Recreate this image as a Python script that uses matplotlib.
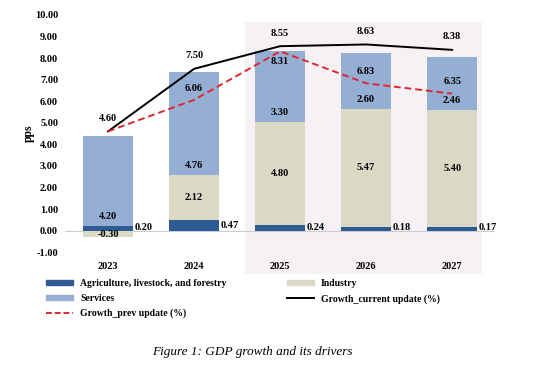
import matplotlib
matplotlib.use("Agg")
import matplotlib.pyplot as plt
from matplotlib.patches import Rectangle
from matplotlib.lines import Line2D
import numpy as np

plt.rcParams['font.family'] = ['Liberation Serif', 'DejaVu Serif']

years = ['2023', '2024', '2025', '2026', '2027']
agri = [0.20, 0.47, 0.24, 0.18, 0.17]
industry = [-0.30, 2.12, 4.80, 5.47, 5.40]
services = [4.20, 4.76, 3.30, 2.60, 2.46]
growth_current = [4.60, 7.50, 8.55, 8.63, 8.38]
growth_prev = [4.60, 6.06, 8.31, 6.83, 6.35]

c_agri = '#2e5b92'
c_ind = '#dbd8c5'
c_serv = '#94afd3'

fig = plt.figure(figsize=(5.33, 3.73), dpi=100)
ax = fig.add_axes([0.122, 0.324, 0.807, 0.636])
ax.patch.set_alpha(0)

x = np.arange(len(years))
w = 0.58

# zona de proyecciones sombreada
ax.add_patch(Rectangle((1.593, -2.0), 4.35 - 1.593, 11.67, facecolor='#f6f1f4',
                       edgecolor='none', zorder=0, clip_on=False))

agri_a = np.array(agri)
ind_a = np.array(industry)
serv_a = np.array(services)
ind_bottom = np.where(ind_a >= 0, agri_a, 0)
serv_bottom = agri_a + np.clip(ind_a, 0, None)

ax.bar(x, agri_a, w, color=c_agri, zorder=2)
ax.bar(x, ind_a, w, bottom=ind_bottom, color=c_ind, zorder=2)
ax.bar(x, serv_a, w, bottom=serv_bottom, color=c_serv, zorder=2)

ax.axhline(0, color='#c8ccd4', lw=0.8, zorder=1)

ax.plot(x, growth_current, color='black', lw=1.4, zorder=3)
ax.plot(x, growth_prev, color='#e0262e', lw=1.4, ls=(0, (3.5, 2)), zorder=3)

fs = 7.5
for i in x:
    ax.text(i + w / 2 + 0.02, agri_a[i] / 2 if agri_a[i] > 0.3 else 0.12, f'{agri[i]:.2f}',
            ha='left', va='center', fontsize=fs, fontweight='bold', zorder=4)
    if ind_a[i] < 0:
        ax.text(i, ind_a[i] / 2 - 0.05, f'{industry[i]:.2f}', ha='center', va='center',
                fontsize=fs, fontweight='bold', zorder=4)
    else:
        ax.text(i, ind_bottom[i] + ind_a[i] / 2, f'{industry[i]:.2f}', ha='center',
                va='center', fontsize=fs, fontweight='bold', zorder=4)
    ax.text(i, serv_bottom[i] + 0.45, f'{services[i]:.2f}', ha='center', va='center',
            fontsize=fs, fontweight='bold', zorder=4)
    ax.text(i, growth_current[i] + 0.6, f'{growth_current[i]:.2f}', ha='center',
            va='center', fontsize=fs, fontweight='bold', zorder=4)

prev_off = [None, 0.55, -0.45, 0.55, 0.55]
for i in x:
    if prev_off[i] is not None:
        ax.text(i, growth_prev[i] + prev_off[i], f'{growth_prev[i]:.2f}', ha='center',
                va='center', fontsize=fs, fontweight='bold', zorder=4)

ax.set_xlim(-0.5, 4.5)
ax.set_ylim(-1, 10)
ax.set_yticks(np.arange(-1, 11, 1))
ax.set_yticklabels([f'{v:.2f}' for v in np.arange(-1, 11, 1)], fontsize=fs, fontweight='bold')
ax.set_xticks(x)
ax.set_xticklabels(years, fontsize=fs, fontweight='bold')
ax.tick_params(axis='y', length=0, pad=5)
ax.tick_params(axis='x', length=0, pad=7)
for s in ax.spines.values():
    s.set_visible(False)
ax.set_ylabel('pps', fontsize=8.5, fontweight='bold', labelpad=0)

handles = [
    Rectangle((0, 0), 1, 1, color=c_agri),
    Rectangle((0, 0), 1, 1, color=c_serv),
    Line2D([], [], color='#e0262e', lw=1.4, ls=(0, (3, 1.5))),
    Rectangle((0, 0), 1, 1, color=c_ind),
    Line2D([], [], color='black', lw=1.4),
]
labels = ['Agriculture, livestock, and forestry', 'Services', 'Growth_prev update (%)',
          'Industry', 'Growth_current update (%)']
fig.legend(handles, labels, ncol=2, loc='upper left', bbox_to_anchor=(0.07, 0.275),
           frameon=False, prop={'size': 7, 'weight': 'bold'}, handlelength=2.8,
           handleheight=0.5, columnspacing=6.2, labelspacing=0.6, handletextpad=0.7)

fig.text(0.473, 0.055, 'Figure 1: GDP growth and its drivers', ha='center', va='center',
         fontsize=9.5, style='italic')

fig.savefig('out.png', dpi=100)
